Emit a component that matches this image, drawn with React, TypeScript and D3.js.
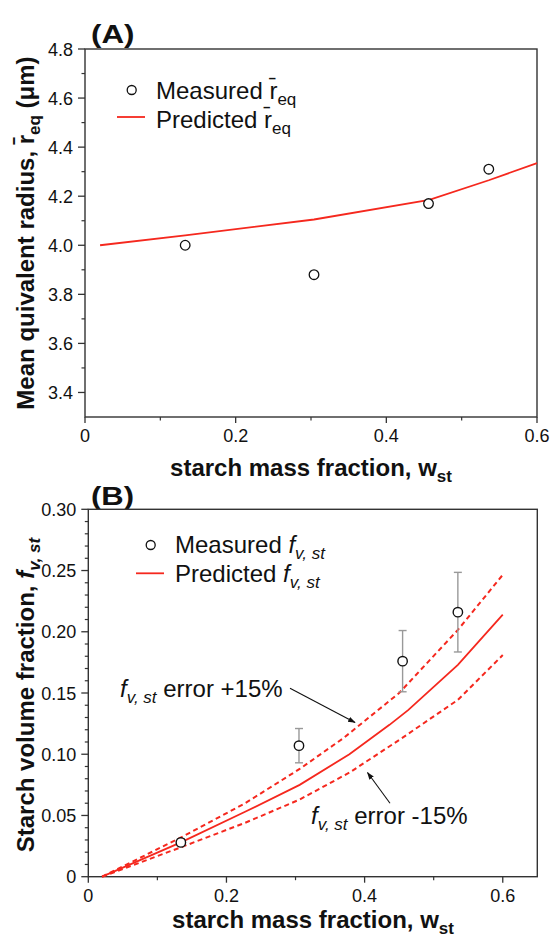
import React from "react";
import * as d3 from "d3";

// ---------- Panel A data ----------
const aMeasuredW = [0.133, 0.304, 0.456, 0.536];
const aMeasuredR = [4.0, 3.88, 4.17, 4.31];
const aPredW = [0.02, 0.133, 0.304, 0.457, 0.536, 0.6];
const aPredR = [4.0, 4.04, 4.105, 4.185, 4.265, 4.335];
const aXTicks = [0, 0.2, 0.4, 0.6];
const aXTickLabels = ["0", "0.2", "0.4", "0.6"];
const aXMinor = [0.1, 0.3, 0.5];
const aYTicks = [3.4, 3.6, 3.8, 4.0, 4.2, 4.4, 4.6, 4.8];
const aYTickLabels = ["3.4", "3.6", "3.8", "4.0", "4.2", "4.4", "4.6", "4.8"];
const aYMinor = [3.5, 3.7, 3.9, 4.1, 4.3, 4.5, 4.7];

// ---------- Panel B data ----------
const bMeasuredW = [0.134, 0.305, 0.455, 0.535];
const bMeasuredF = [0.028, 0.107, 0.176, 0.216];
const bMeasuredErr = [0.003, 0.014, 0.025, 0.0325];
const bPredW = [0.02, 0.134, 0.227, 0.306, 0.378, 0.436, 0.463, 0.535, 0.6];
const bPredF = [0, 0.028, 0.053, 0.075, 0.1, 0.124, 0.136, 0.173, 0.214];
const bUpperW = [0.02, 0.134, 0.227, 0.306, 0.369, 0.45, 0.535, 0.6];
const bUpperF = [0, 0.032, 0.06, 0.088, 0.113, 0.15, 0.2015, 0.2465];
const bLowerW = [0.02, 0.134, 0.227, 0.306, 0.378, 0.451, 0.535, 0.6];
const bLowerF = [0, 0.024, 0.044, 0.063, 0.085, 0.112, 0.1444, 0.181];
const bXTicks = [0, 0.2, 0.4, 0.6];
const bXTickLabels = ["0", "0.2", "0.4", "0.6"];
const bXMinor = [0.1, 0.3, 0.5];
const bYTicks = [0, 0.05, 0.1, 0.15, 0.2, 0.25, 0.3];
const bYTickLabels = ["0", "0.05", "0.10", "0.15", "0.20", "0.25", "0.30"];
const bYMinor = [0.01, 0.02, 0.03, 0.04, 0.06, 0.07, 0.08, 0.09, 0.11, 0.12, 0.13, 0.14, 0.16, 0.17, 0.18, 0.19, 0.21, 0.22, 0.23, 0.24, 0.26, 0.27, 0.28, 0.29];

const FONT = "'Liberation Sans', Arial, Helvetica, sans-serif";
const RED = "#f5281e";
const AXIS = "#333";

type Box = { l: number; r: number; t: number; b: number };

function Frame({ box, xs, ys, xTicks, xLabels, xMinor, yTicks, yLabels, yMinor }: any) {
  return (
    <g>
      <rect x={box.l} y={box.t} width={box.r - box.l} height={box.b - box.t} fill="none" stroke={AXIS} strokeWidth={1.4} />
      {xTicks.map((v: number, i: number) => (
        <g key={"xt" + i}>
          <line x1={xs(v)} x2={xs(v)} y1={box.b} y2={box.b + 6} stroke={AXIS} strokeWidth={1.3} />
          <text x={xs(v)} y={box.b + 25} textAnchor="middle" fontSize={18} fontFamily={FONT} fill="#111">{xLabels[i]}</text>
        </g>
      ))}
      {xMinor.map((v: number, i: number) => (
        <line key={"xm" + i} x1={xs(v)} x2={xs(v)} y1={box.b} y2={box.b + 3.5} stroke={AXIS} strokeWidth={1.2} />
      ))}
      {yTicks.map((v: number, i: number) => (
        <g key={"yt" + i}>
          <line x1={box.l - 7} x2={box.l} y1={ys(v)} y2={ys(v)} stroke={AXIS} strokeWidth={1.3} />
          <text x={box.l - 12} y={ys(v) + 6.5} textAnchor="end" fontSize={18} fontFamily={FONT} fill="#111">{yLabels[i]}</text>
        </g>
      ))}
      {yMinor.map((v: number, i: number) => (
        <line key={"ym" + i} x1={box.l - 3.5} x2={box.l} y1={ys(v)} y2={ys(v)} stroke={AXIS} strokeWidth={1.2} />
      ))}
    </g>
  );
}

export default function App() {
  // Panel A
  const boxA: Box = { l: 85, r: 537, t: 49, b: 417 };
  const xA = d3.scaleLinear().domain([0, 0.6]).range([boxA.l, boxA.r]);
  const yA = d3.scaleLinear().domain([3.3, 4.8]).range([boxA.b, boxA.t]);
  const lineA = d3.line<number>().x((d, i) => xA(aPredW[i])).y((d) => yA(d));

  // Panel B
  const boxB: Box = { l: 88.3, r: 537.3, t: 509.3, b: 876.7 };
  const xB = d3.scaleLinear().domain([0, 0.65]).range([boxB.l, boxB.r]);
  const yB = d3.scaleLinear().domain([0, 0.3]).range([boxB.b, boxB.t]);
  const mk = (ws: number[]) => d3.line<number>().x((d, i) => xB(ws[i])).y((d) => yB(d));

  return (
    <svg width={550} height={941} style={{ position: "absolute", left: 0, top: 0, background: "#fff" }} fontFamily={FONT}>
      <defs>
        <marker id="arr" viewBox="0 0 10 10" refX="9" refY="5" markerWidth="7" markerHeight="7" orient="auto">
          <path d="M0,1.5 L10,5 L0,8.5 z" fill="#111" />
        </marker>
      </defs>

      {/* ===== Panel A ===== */}
      <text x={91} y={43} fontSize={26} fontWeight="bold" fill="#111" textLength={43.5} lengthAdjust="spacingAndGlyphs">(A)</text>
      <Frame box={boxA} xs={xA} ys={yA} xTicks={aXTicks} xLabels={aXTickLabels} xMinor={aXMinor}
        yTicks={aYTicks} yLabels={aYTickLabels} yMinor={aYMinor} />
      <path d={lineA(aPredR) || ""} fill="none" stroke={RED} strokeWidth={1.8} />
      {aMeasuredW.map((w, i) => (
        <circle key={i} cx={xA(w)} cy={yA(aMeasuredR[i])} r={4.8} fill="#fff" stroke="#111" strokeWidth={1.3} />
      ))}
      {/* legend A */}
      <circle cx={131.7} cy={90} r={4.5} fill="#fff" stroke="#111" strokeWidth={1.3} />
      <text x={156} y={98.5} fontSize={24} fill="#111">Measured r&#x0304;<tspan dy={6} fontSize={17}>eq</tspan></text>
      <line x1={117} x2={145} y1={117} y2={117} stroke={RED} strokeWidth={1.8} />
      <text x={156} y={127.5} fontSize={24} fill="#111">Predicted r&#x0304;<tspan dy={6} fontSize={17}>eq</tspan></text>
      {/* axis labels A */}
      <text x={311} y={476} textAnchor="middle" fontSize={24} fontWeight="bold" fill="#111">
        starch mass fraction, w<tspan dy={6} fontSize={17}>st</tspan>
      </text>
      <text transform="translate(34,233) rotate(-90)" textAnchor="middle" fontSize={24} fontWeight="bold" fill="#111">
        Mean quivalent radius, r&#x0304;<tspan dy={6} fontSize={17}>eq</tspan><tspan dy={-6}> (μm)</tspan>
      </text>

      {/* ===== Panel B ===== */}
      <text x={91} y={505} fontSize={26} fontWeight="bold" fill="#111" textLength={43} lengthAdjust="spacingAndGlyphs">(B)</text>
      <Frame box={boxB} xs={xB} ys={yB} xTicks={bXTicks} xLabels={bXTickLabels} xMinor={bXMinor}
        yTicks={bYTicks} yLabels={bYTickLabels} yMinor={bYMinor} />
      <path d={mk(bUpperW)(bUpperF) || ""} fill="none" stroke={RED} strokeWidth={2} strokeDasharray="5,3.5" />
      <path d={mk(bLowerW)(bLowerF) || ""} fill="none" stroke={RED} strokeWidth={2} strokeDasharray="5,3.5" />
      <path d={mk(bPredW)(bPredF) || ""} fill="none" stroke={RED} strokeWidth={1.8} />
      {bMeasuredW.map((w, i) => (
        <g key={i}>
          <line x1={xB(w)} x2={xB(w)} y1={yB(bMeasuredF[i] - bMeasuredErr[i])} y2={yB(bMeasuredF[i] + bMeasuredErr[i])} stroke="#999" strokeWidth={1.4} />
          <line x1={xB(w) - 4} x2={xB(w) + 4} y1={yB(bMeasuredF[i] + bMeasuredErr[i])} y2={yB(bMeasuredF[i] + bMeasuredErr[i])} stroke="#999" strokeWidth={1.4} />
          <line x1={xB(w) - 4} x2={xB(w) + 4} y1={yB(bMeasuredF[i] - bMeasuredErr[i])} y2={yB(bMeasuredF[i] - bMeasuredErr[i])} stroke="#999" strokeWidth={1.4} />
          <circle cx={xB(w)} cy={yB(bMeasuredF[i])} r={4.7} fill="#fff" stroke="#111" strokeWidth={1.4} />
        </g>
      ))}
      {/* legend B */}
      <circle cx={150.7} cy={545} r={4.5} fill="#fff" stroke="#111" strokeWidth={1.3} />
      <text x={175} y={552.5} fontSize={24} fill="#111">Measured <tspan fontStyle="italic">f</tspan><tspan dy={6} fontSize={17} fontStyle="italic">v, st</tspan></text>
      <line x1={136} x2={164} y1={573.3} y2={573.3} stroke={RED} strokeWidth={1.8} />
      <text x={175} y={581.5} fontSize={24} fill="#111">Predicted <tspan fontStyle="italic">f</tspan><tspan dy={6} fontSize={17} fontStyle="italic">v, st</tspan></text>

      {/* annotations */}
      <text x={120} y={697} fontSize={24} fill="#111">
        <tspan fontStyle="italic">f</tspan><tspan dy={6} fontSize={17} fontStyle="italic">v, st</tspan><tspan dy={-6}> error +15%</tspan>
      </text>
      <line x1={290} y1={688.3} x2={355} y2={722.5} stroke="#111" strokeWidth={1.1} markerEnd="url(#arr)" />
      <text x={311} y={823.5} fontSize={24} fill="#111">
        <tspan fontStyle="italic">f</tspan><tspan dy={6} fontSize={17} fontStyle="italic">v, st</tspan><tspan dy={-6}> error -15%</tspan>
      </text>
      <line x1={390} y1={803.3} x2={367.5} y2={772.5} stroke="#111" strokeWidth={1.1} markerEnd="url(#arr)" />

      {/* axis labels B */}
      <text x={313} y={928} textAnchor="middle" fontSize={24} fontWeight="bold" fill="#111">
        starch mass fraction, w<tspan dy={6} fontSize={17}>st</tspan>
      </text>
      <text transform="translate(34,695) rotate(-90)" textAnchor="middle" fontSize={24} fontWeight="bold" fill="#111">
        Starch volume fraction, <tspan fontStyle="italic">f</tspan><tspan dy={6} fontSize={17} fontStyle="italic">v, st</tspan>
      </text>
    </svg>
  );
}
